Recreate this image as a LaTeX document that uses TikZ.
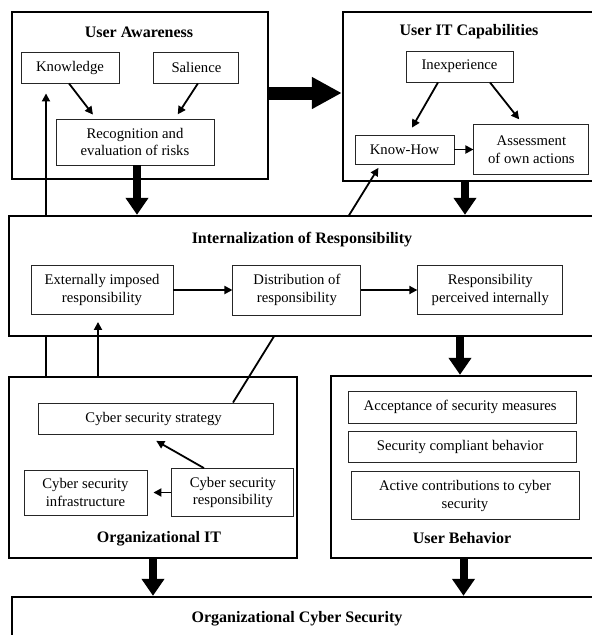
\documentclass[tikz,border=0pt]{standalone}
\usepackage{fontspec}
\setmainfont{Liberation Serif}
\usetikzlibrary{arrows.meta, positioning, calc}

\begin{document}
\begin{tikzpicture}[x=1pt, y=-1pt, node distance=8pt]
    \tikzstyle{panel} = [draw, line width=2.4pt, inner sep=0pt]
    \tikzstyle{block} = [draw=black!85, line width=0.9pt, align=center,
                         font=\fontsize{14.7}{17.5}\selectfont]
    \tikzstyle{heading} = [font=\fontsize{16}{19}\selectfont\bfseries]
    \tikzstyle{link} = [line width=1.8pt, -{Triangle[length=8pt, width=8pt]}]
    \tikzstyle{bigarrow} = [line width=8pt, -{Triangle[length=17pt, width=22pt]}]

    \useasboundingbox (0,0) rectangle (592,635);
    \clip (0,0) rectangle (592,635);

    \node [panel, minimum width=256pt, minimum height=167pt] (ua) at (140,95.5) {};
    \node [heading] (uatitle) at (139,32) {User Awareness};
    \node [block, minimum width=98pt, minimum height=31pt] (know) at (70,67.5) {Knowledge};
    \node [block, minimum width=85pt, minimum height=31pt, right=34pt of know] (sal) {Salience};
    \node [block, minimum width=158pt, minimum height=46pt] (recog) at (135,142) {
        Recognition and\\evaluation of risks
    };

    \node [panel, minimum width=253pt, minimum height=169pt] (uit) at (469.5,96.5) {};
    \node [heading] (uittitle) at (469,32) {User IT Capabilities};
    \node [block, minimum width=107pt, minimum height=31pt] (inexp) at (459.5,66.5) {Inexperience};
    \node [block, minimum width=99pt, minimum height=29pt] (knowhow) at (404.5,149.5) {Know-How};
    \node [block, minimum width=115pt, minimum height=50pt, right=19pt of knowhow] (assess) {
        Assessment\\of own actions
    };

    \node [panel, minimum width=288pt, minimum height=181pt] (orgit) at (153,467.5) {};
    \node [heading] (orgtitle) at (159,539) {Organizational IT};
    \node [block, minimum width=235pt, minimum height=31pt] (strategy) at (155.5,418.5) {
        Cyber security strategy
    };
    \node [block, minimum width=123pt, minimum height=45pt] (infra) at (85.5,492.5) {
        Cyber security\\infrastructure
    };
    \node [block, minimum width=122pt, minimum height=48pt, right=24pt of infra] (csresp) {
        Cyber security\\responsibility
    };

    \node [panel, minimum width=265pt, minimum height=182pt] (ub) at (463.5,467) {};
    \node [heading] (ubtitle) at (462,538) {User Behavior};
    \node [block, minimum width=228pt, minimum height=32pt] (accept) at (462,407) {
        Acceptance of security measures
    };
    \node [block, minimum width=228pt, minimum height=31pt, below=of accept] (comply) {
        Security compliant behavior
    };
    \node [block, minimum width=228pt, minimum height=48pt, below=of comply, xshift=3pt] (contrib) {
        Active contributions to cyber\\security
    };

    \node [panel, minimum width=592pt, minimum height=63pt] (ocs) at (308,628.5) {};
    \node [heading] (ocstitle) at (297,619) {Organizational Cyber Security};

    % these two run behind the internalization box
    \draw[link, shorten >=10pt] ([xshift=-24pt]know.south |- orgit.north) -- ([xshift=-24pt]know.south);
    \draw[link, shorten >=4pt] ([xshift=77.5pt]strategy.north) -- ([xshift=-24pt]knowhow.south);

    \node [panel, fill=white, minimum width=587pt, minimum height=120pt] (intern) at (302.5,276) {};
    \node [heading] (inttitle) at (302,240) {Internalization of Responsibility};
    \node [block, minimum width=142pt, minimum height=49pt] (ext) at (102,290) {
        Externally imposed\\responsibility
    };
    \node [block, minimum width=128pt, minimum height=50pt, right=59pt of ext] (dist) {
        Distribution of\\responsibility
    };
    \node [block, minimum width=145pt, minimum height=49pt, right=56pt of dist] (resp) {
        Responsibility\\perceived internally
    };

    \draw[link, shorten >=5pt] ([xshift=-1pt]know.south) -- ([xshift=-39pt]recog.north);
    \draw[link, shorten >=5pt] ([xshift=1.5pt]sal.south) -- ([xshift=40pt]recog.north);
    \draw[link, shorten >=8pt] ([xshift=-21.5pt]inexp.south) -- ([xshift=3.5pt]knowhow.north);
    \draw[link, shorten >=6pt] ([xshift=30.5pt]inexp.south) -- ([xshift=-8.5pt]assess.north);
    \draw[link] (knowhow.east) -- (knowhow.east -| assess.west);
    \draw[link] (ext) -- (dist);
    \draw[link] (dist) -- (resp);
    \draw[link, shorten >=13pt] ([xshift=-29pt]csresp.north) -- ([xshift=-10.5pt]strategy.south);
    \draw[link, shorten >=6pt] (csresp.west) -- (infra.east);
    \draw[link, shorten >=7pt] ([xshift=-4pt]ext.south |- orgit.north) -- ([xshift=-4pt]ext.south);

    \draw[bigarrow, line width=13pt, -{Triangle[length=30pt, width=30pt]}] ([yshift=2.5pt]ua.east) -- ([yshift=2.5pt]ua.east -| uit.west);
    \draw[bigarrow] ([xshift=2pt]recog.south) -- ([xshift=2pt]recog.south |- intern.north);
    \draw[bigarrow] ([xshift=-4.5pt]uit.south) -- ([xshift=-4.5pt]uit.south |- intern.north);
    \draw[bigarrow] ([xshift=-3.5pt]ub.north |- intern.south) -- ([xshift=-3.5pt]ub.north);
    \draw[bigarrow] (orgit.south) -- (orgit.south |- ocs.north);
    \draw[bigarrow] (ub.south) -- (ub.south |- ocs.north);
\end{tikzpicture}
\end{document}
